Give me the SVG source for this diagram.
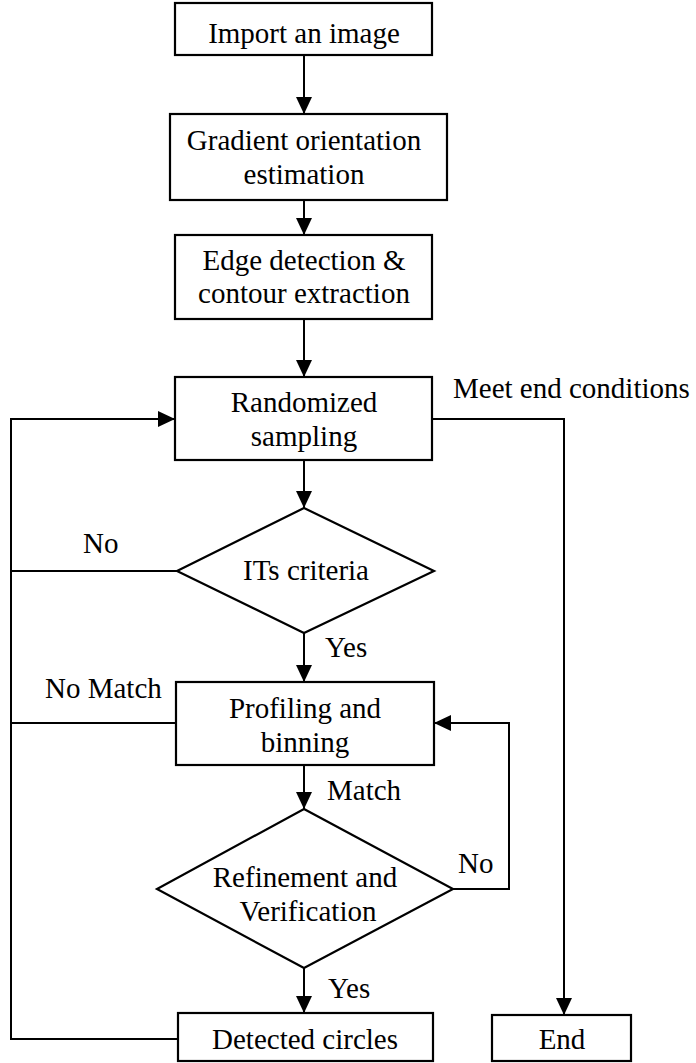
<svg xmlns="http://www.w3.org/2000/svg" width="696" height="1063" viewBox="0 0 696 1063">
<style>
.n{fill:#fff;stroke:#000;stroke-width:2.2}
text{font-family:'Liberation Serif','Times New Roman','DejaVu Serif',serif;font-size:29px;fill:#000}
.c{text-anchor:middle}
.l{fill:none;stroke:#000;stroke-width:2}
</style>
<defs>
<marker id="a" viewBox="0 0 17 16" refX="17" refY="8" markerWidth="17" markerHeight="16" markerUnits="userSpaceOnUse" orient="auto">
<path d="M0,0 L17,8 L0,16 Z" fill="#000"/>
</marker>
</defs>
<rect width="696" height="1063" fill="#fff"/>
<g id="connectors">
<line class="l" x1="304" y1="55" x2="304" y2="114" marker-end="url(#a)"/>
<line class="l" x1="304" y1="200" x2="304" y2="235" marker-end="url(#a)"/>
<line class="l" x1="304" y1="319" x2="304" y2="377" marker-end="url(#a)"/>
<line class="l" x1="304" y1="460" x2="304" y2="508" marker-end="url(#a)"/>
<line class="l" x1="304" y1="633" x2="304" y2="682" marker-end="url(#a)"/>
<line class="l" x1="304" y1="765" x2="304" y2="809" marker-end="url(#a)"/>
<line class="l" x1="304" y1="968" x2="304" y2="1013" marker-end="url(#a)"/>
<polyline class="l" points="178,1039 11,1039 11,419 175,419" marker-end="url(#a)"/>
<line class="l" x1="11" y1="571" x2="177" y2="571"/>
<line class="l" x1="11" y1="723" x2="176" y2="723"/>
<polyline class="l" points="432,419 564,419 564,1015" marker-end="url(#a)"/>
<polyline class="l" points="453,889 509,889 509,723 434,723" marker-end="url(#a)"/>
<text font-family="Liberation Serif, serif" x="83" y="553">No</text>
<text font-family="Liberation Serif, serif" x="325" y="657">Yes</text>
<text font-family="Liberation Serif, serif" x="45" y="698">No Match</text>
<text font-family="Liberation Serif, serif" x="327" y="800">Match</text>
<text font-family="Liberation Serif, serif" x="458" y="873">No</text>
<text font-family="Liberation Serif, serif" x="328" y="998">Yes</text>
<text font-family="Liberation Serif, serif" x="453" y="398">Meet end conditions</text>
</g>
<g id="import">
<rect class="n" x="175" y="3" width="257" height="52"/>
<text class="c" x="304" y="43">Import an image</text>
</g>
<g id="gradient">
<rect class="n" x="170" y="114" width="277" height="86"/>
<text class="c" x="304" y="150">Gradient orientation</text>
<text class="c" x="304" y="184">estimation</text>
</g>
<g id="edge">
<rect class="n" x="175" y="235" width="257" height="84"/>
<text class="c" x="304" y="270">Edge detection &amp;</text>
<text class="c" x="304" y="303">contour extraction</text>
</g>
<g id="sampling">
<rect class="n" x="175" y="377" width="257" height="83"/>
<text class="c" x="304" y="412">Randomized</text>
<text class="c" x="304" y="446">sampling</text>
</g>
<g id="its">
<polygon class="n" points="304,508 434,571 304,633 177,571"/>
<text class="c" x="306" y="580">ITs criteria</text>
</g>
<g id="profiling">
<rect class="n" x="176" y="682" width="258" height="83"/>
<text class="c" x="305" y="718">Profiling and</text>
<text class="c" x="305" y="752">binning</text>
</g>
<g id="refine">
<polygon class="n" points="304,809 453,889 304,968 157,889"/>
<text class="c" x="305" y="887">Refinement and</text>
<text class="c" x="308" y="921">Verification</text>
</g>
<g id="detected">
<rect class="n" x="178" y="1013" width="255" height="48"/>
<text class="c" x="305" y="1049">Detected circles</text>
</g>
<g id="end">
<rect class="n" x="492" y="1015" width="139" height="46"/>
<text class="c" x="562" y="1049">End</text>
</g>
</svg>
